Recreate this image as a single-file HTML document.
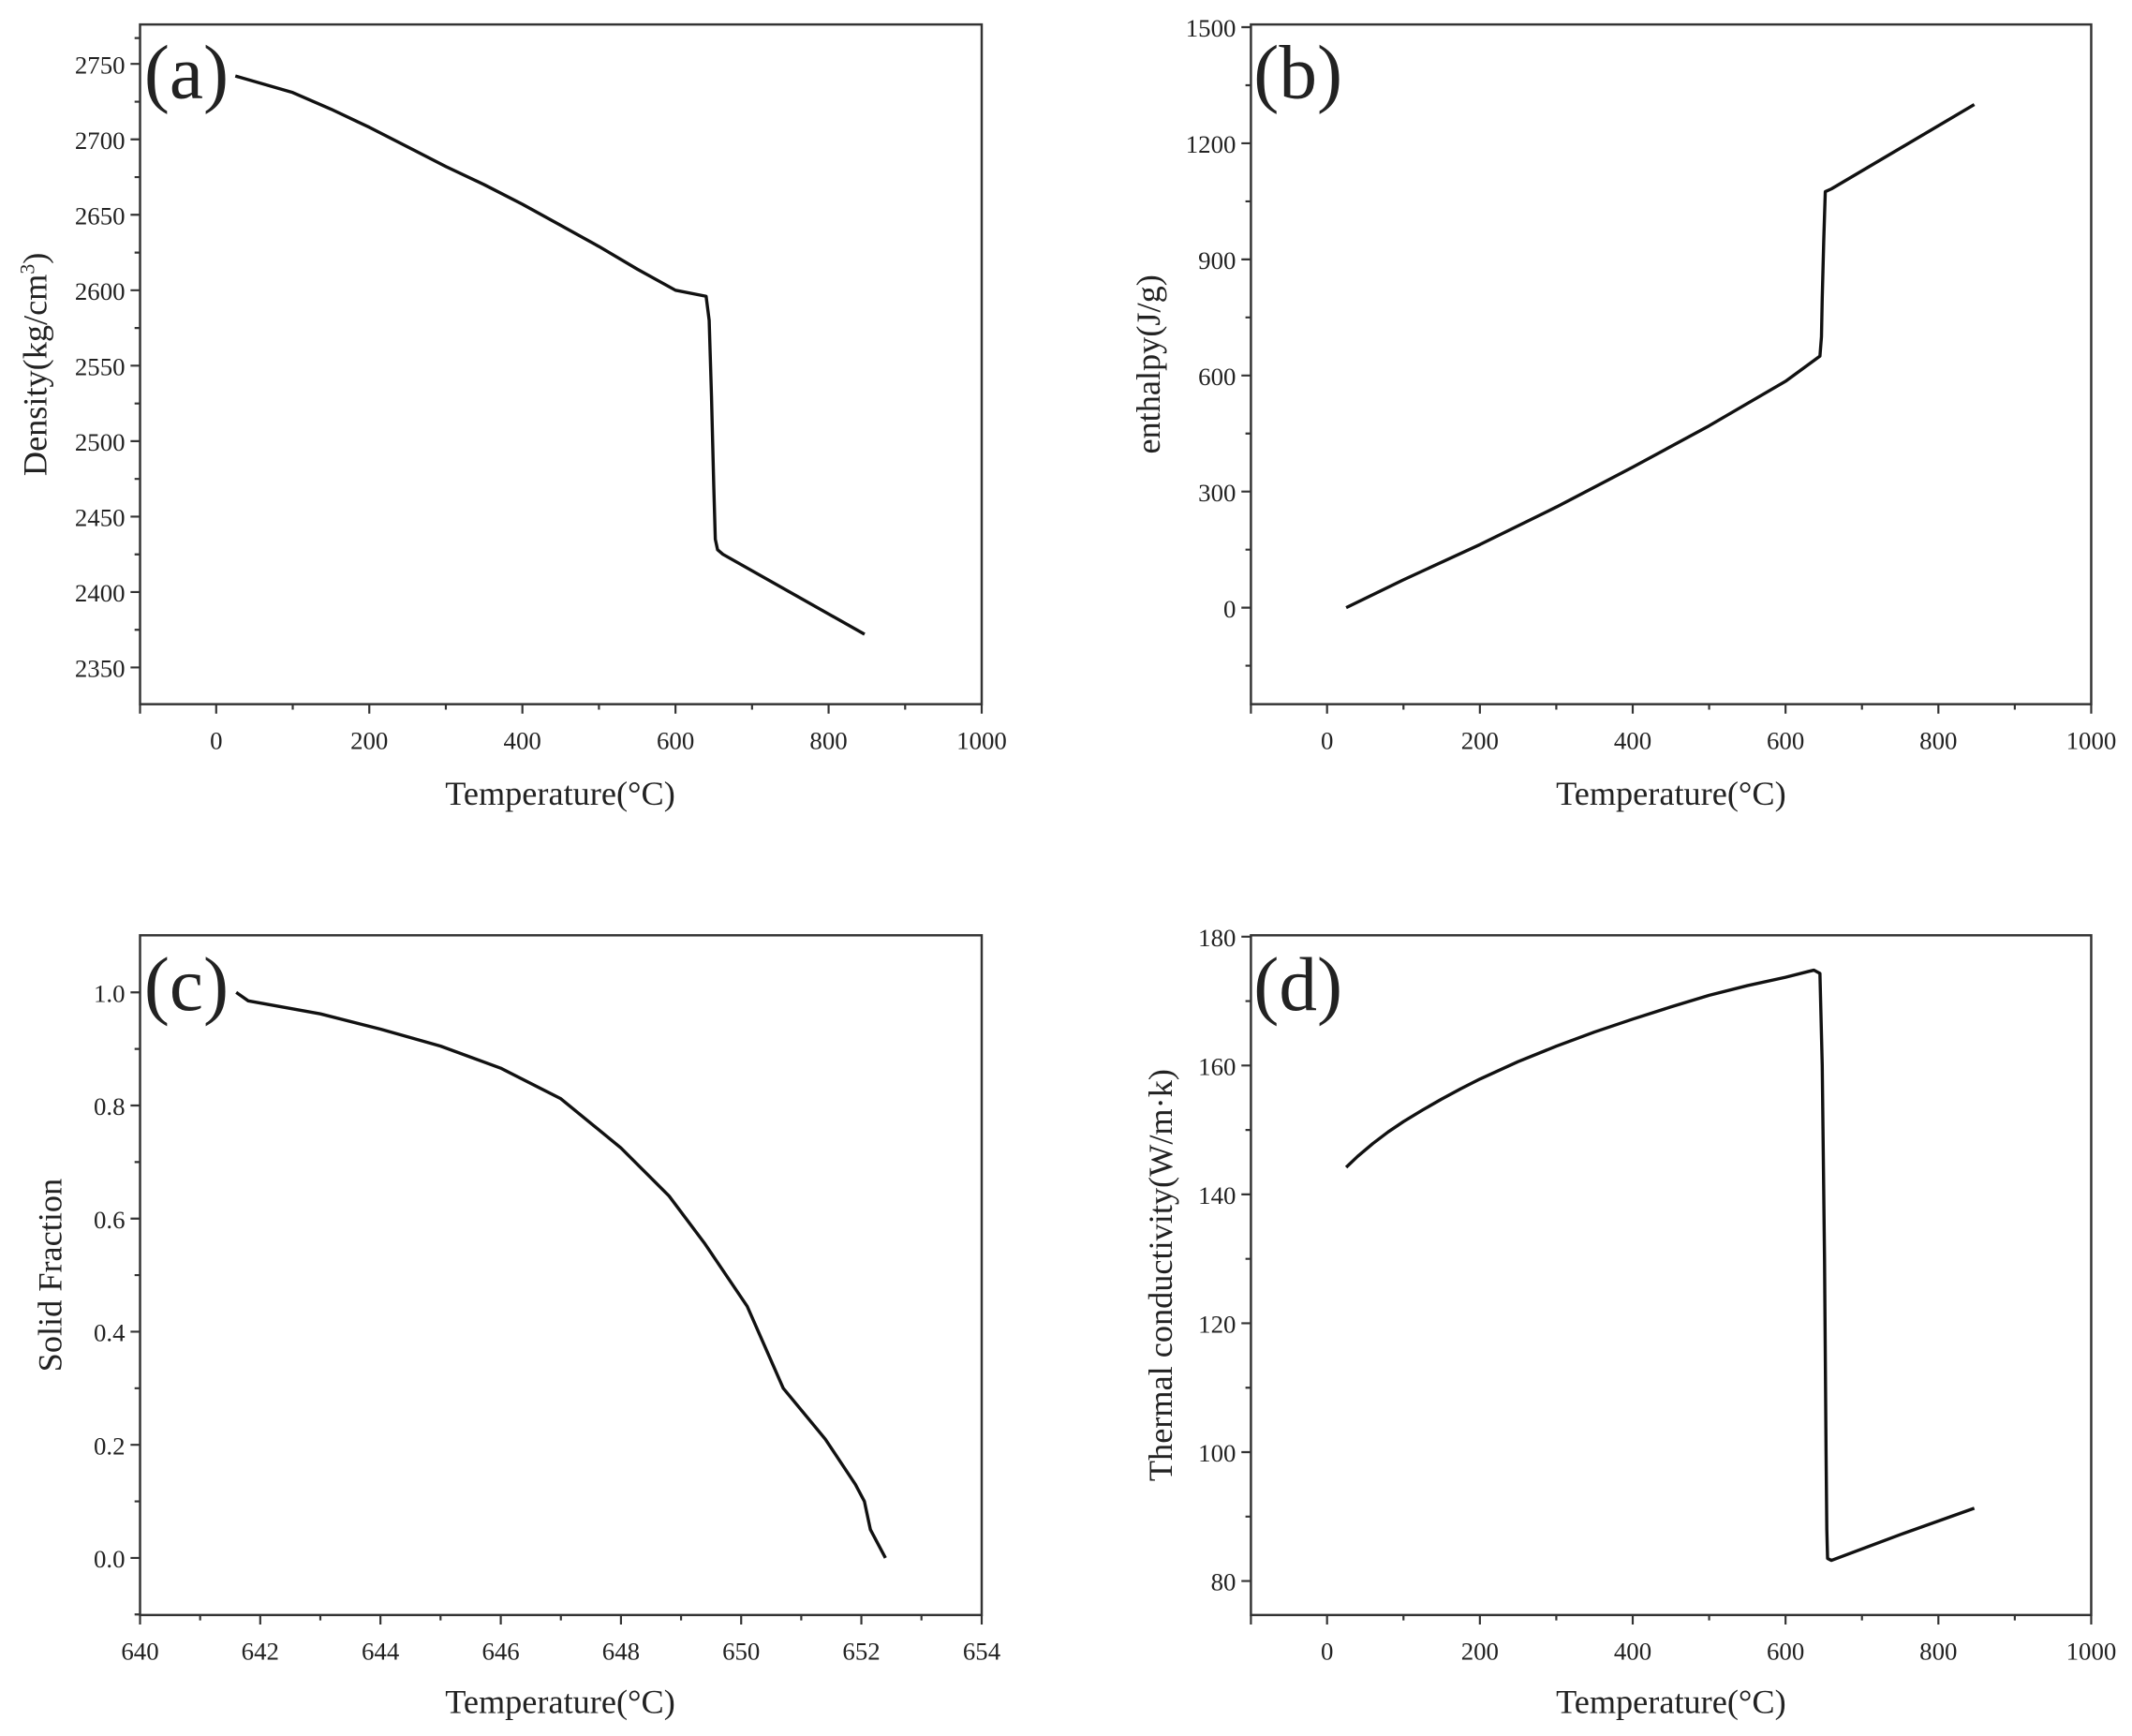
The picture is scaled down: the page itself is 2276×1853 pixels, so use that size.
<!DOCTYPE html>
<html><head><meta charset="utf-8"><style>
html,body{margin:0;padding:0;background:#fff;}
svg{display:block;}
text{font-family:"Liberation Serif",serif;fill:#222;}
.t{font-size:18.5px;}
.ti{font-size:25px;}
.p{font-size:56px;}
.fr{fill:none;stroke:#333;stroke-width:1.7;}
.tk{fill:none;stroke:#333;stroke-width:1.5;}
.c{fill:none;stroke:#111;stroke-width:3.4;vector-effect:non-scaling-stroke;stroke-linejoin:round;}
</style></head><body>
<svg width="2276" height="1853" viewBox="0 0 1568 1277" preserveAspectRatio="none" xmlns="http://www.w3.org/2000/svg">
<!-- Panel a -->
<rect class="fr" x="103" y="18" width="619" height="500"/>
<path class="tk" d="M103,47h-7M103,102.5h-7M103,158h-7M103,213.5h-7M103,269h-7M103,324.5h-7M103,380h-7M103,435.5h-7M103,491h-7M103,74.8h-4M103,130.3h-4M103,185.8h-4M103,241.3h-4M103,296.8h-4M103,352.3h-4M103,407.8h-4M103,463.3h-4M103,28h-4M103,518v7M159,518v7M271.6,518v7M384.2,518v7M496.8,518v7M609.4,518v7M722,518v7M215.3,518v4M327.9,518v4M440.5,518v4M553.1,518v4M665.7,518v4"/>
<g class="t" text-anchor="end"><text x="92" y="54">2750</text><text x="92" y="109.5">2700</text><text x="92" y="165">2650</text><text x="92" y="220.5">2600</text><text x="92" y="276">2550</text><text x="92" y="331.5">2500</text><text x="92" y="387">2450</text><text x="92" y="442.5">2400</text><text x="92" y="498">2350</text></g>
<g class="t" text-anchor="middle"><text x="159" y="551">0</text><text x="271.6" y="551">200</text><text x="384.2" y="551">400</text><text x="496.8" y="551">600</text><text x="609.4" y="551">800</text><text x="722" y="551">1000</text></g>
<text class="ti" x="412" y="592" text-anchor="middle">Temperature(°C)</text>
<text class="ti" transform="translate(34,268) rotate(-90)" text-anchor="middle">Density(kg/cm<tspan font-size="15" dy="-9">3</tspan><tspan dy="9">)</tspan></text>
<text class="p" x="106" y="72">(a)</text>
<g transform="translate(159,3099.5) scale(0.563,-1.11)"><polyline class="c" points="25,2742 100,2731 150,2720 200,2708 250,2695 300,2682 350,2670 400,2657 450,2643 500,2629 550,2614 600,2600 640,2596 644,2580 647,2530 650,2470 652,2435 655,2428 662,2425 847,2372"/></g>

<!-- Panel b -->
<rect class="fr" x="920" y="18" width="618" height="500"/>
<path class="tk" d="M920,20h-7M920,105.4h-7M920,190.8h-7M920,276.2h-7M920,361.6h-7M920,447h-7M920,62.7h-4M920,148.1h-4M920,233.5h-4M920,318.9h-4M920,404.3h-4M920,489.7h-4M920,518v7M976,518v7M1088.4,518v7M1200.8,518v7M1313.2,518v7M1425.6,518v7M1538,518v7M1032.2,518v4M1144.6,518v4M1257,518v4M1369.4,518v4M1481.8,518v4"/>
<g class="t" text-anchor="end"><text x="909" y="27">1500</text><text x="909" y="112.4">1200</text><text x="909" y="197.8">900</text><text x="909" y="283.2">600</text><text x="909" y="368.6">300</text><text x="909" y="454">0</text></g>
<g class="t" text-anchor="middle"><text x="976" y="551">0</text><text x="1088.4" y="551">200</text><text x="1200.8" y="551">400</text><text x="1313.2" y="551">600</text><text x="1425.6" y="551">800</text><text x="1538" y="551">1000</text></g>
<text class="ti" x="1229" y="592" text-anchor="middle">Temperature(°C)</text>
<text class="ti" transform="translate(853,268) rotate(-90)" text-anchor="middle">enthalpy(J/g)</text>
<text class="p" x="922" y="72">(b)</text>
<g transform="translate(976,447) scale(0.562,-0.2847)"><polyline class="c" points="25,0 100,72 200,163 300,260 400,363 500,470 600,585 645,650 647,700 648,800 650,950 652,1075 660,1082 847,1300"/></g>

<!-- Panel c -->
<rect class="fr" x="103" y="688" width="619" height="500"/>
<path class="tk" d="M103,730h-7M103,813.2h-7M103,896.4h-7M103,979.6h-7M103,1062.8h-7M103,1146h-7M103,771.6h-4M103,854.8h-4M103,938h-4M103,1021.2h-4M103,1104.4h-4M103,1187.6h-4M103,1188v7M191.4,1188v7M279.8,1188v7M368.3,1188v7M456.7,1188v7M545.1,1188v7M633.5,1188v7M722,1188v7M147.2,1188v4M235.6,1188v4M324,1188v4M412.5,1188v4M500.9,1188v4M589.3,1188v4M677.7,1188v4"/>
<g class="t" text-anchor="end"><text x="92" y="737">1.0</text><text x="92" y="820.2">0.8</text><text x="92" y="903.4">0.6</text><text x="92" y="986.6">0.4</text><text x="92" y="1069.8">0.2</text><text x="92" y="1153">0.0</text></g>
<g class="t" text-anchor="middle"><text x="103" y="1221">640</text><text x="191.4" y="1221">642</text><text x="279.8" y="1221">644</text><text x="368.3" y="1221">646</text><text x="456.7" y="1221">648</text><text x="545.1" y="1221">650</text><text x="633.5" y="1221">652</text><text x="722" y="1221">654</text></g>
<text class="ti" x="412" y="1260" text-anchor="middle">Temperature(°C)</text>
<text class="ti" transform="translate(45,938) rotate(-90)" text-anchor="middle">Solid Fraction</text>
<text class="p" x="106" y="743">(c)</text>
<g transform="translate(-28191.4,1146) scale(44.21,-416)"><polyline class="c" points="641.6,1.0 641.8,0.985 643,0.962 644,0.935 645,0.905 646,0.866 647,0.812 648,0.725 648.8,0.64 649.4,0.555 650.1,0.445 650.7,0.3 651.4,0.21 651.9,0.13 652.05,0.1 652.15,0.05 652.4,0.0"/></g>

<!-- Panel d -->
<rect class="fr" x="920" y="688" width="618" height="500"/>
<path class="tk" d="M920,689h-7M920,783.8h-7M920,878.6h-7M920,973.4h-7M920,1068.2h-7M920,1163h-7M920,736.4h-4M920,831.2h-4M920,926h-4M920,1020.8h-4M920,1115.6h-4M920,1188v7M976,1188v7M1088.4,1188v7M1200.8,1188v7M1313.2,1188v7M1425.6,1188v7M1538,1188v7M1032.2,1188v4M1144.6,1188v4M1257,1188v4M1369.4,1188v4M1481.8,1188v4"/>
<g class="t" text-anchor="end"><text x="909" y="696">180</text><text x="909" y="790.8">160</text><text x="909" y="885.6">140</text><text x="909" y="980.4">120</text><text x="909" y="1075.2">100</text><text x="909" y="1170">80</text></g>
<g class="t" text-anchor="middle"><text x="976" y="1221">0</text><text x="1088.4" y="1221">200</text><text x="1200.8" y="1221">400</text><text x="1313.2" y="1221">600</text><text x="1425.6" y="1221">800</text><text x="1538" y="1221">1000</text></g>
<text class="ti" x="1229" y="1260" text-anchor="middle">Temperature(°C)</text>
<text class="ti" transform="translate(862,938) rotate(-90)" text-anchor="middle">Thermal conductivity(W/m·k)</text>
<text class="p" x="922" y="743">(d)</text>
<g transform="translate(976,1542.2) scale(0.562,-4.74)"><polyline class="c" points="25,144.2 40,145.9 60,147.9 80,149.7 100,151.3 125,153.1 150,154.8 175,156.4 200,157.9 250,160.6 300,163.0 350,165.2 400,167.2 450,169.1 500,170.9 550,172.4 600,173.7 630,174.6 637,174.8 645,174.3 648,160 651,130 653,100 654,88 655,83.5 660,83.2 750,87.2 847,91.3"/></g>
</svg>
</body></html>
